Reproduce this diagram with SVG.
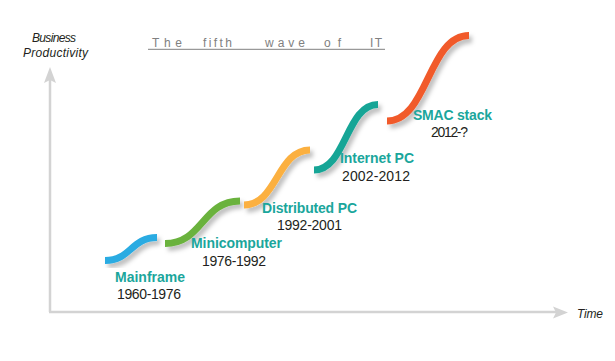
<svg xmlns="http://www.w3.org/2000/svg" width="615" height="361" viewBox="0 0 615 361">
<style>
.axis{stroke:#d3d3d3;stroke-width:2.5;fill:none}
.head{fill:#d3d3d3}
.wave{fill:none;stroke-width:7;stroke-linecap:butt;filter:url(#sh)}
.name{font-family:"Liberation Sans",Arial,sans-serif;font-size:14px;font-weight:bold;fill:#1ba69c}
.year{font-family:"Liberation Sans",Arial,sans-serif;font-size:14px;fill:#231f20}
.ax{font-family:"Liberation Sans",Arial,sans-serif;font-size:12px;font-style:italic;fill:#231f20}
.title{font-family:"Liberation Sans",Arial,sans-serif;font-size:12px;fill:#808080}
</style>
<defs>
<filter id="sh" x="-30%" y="-30%" width="160%" height="160%">
<feDropShadow dx="3" dy="4" stdDeviation="2" flood-color="#000" flood-opacity="0.25"/>
</filter>
</defs>
<rect width="615" height="361" fill="#fff"/>
<g id="axes">
<line class="axis" x1="50" y1="312" x2="50" y2="80"/>
<polygon class="head" points="50,67 56,83 50,80 44,83"/>
<line class="axis" x1="49" y1="312" x2="556" y2="312"/>
<polygon class="head" points="568,312.5 553,318.5 556,312.5 553,306.5"/>
<text class="ax" x="32" y="42" textLength="44">Business</text>
<text class="ax" x="23" y="57" textLength="65">Productivity</text>
<text class="ax" x="577" y="318" textLength="26">Time</text>
</g>
<g id="title">
<text class="title" x="152" y="47" textLength="30">The</text>
<text class="title" x="203" y="47" textLength="29">fifth</text>
<text class="title" x="265" y="47" textLength="40">wave</text>
<text class="title" x="324" y="47" textLength="17">of</text>
<text class="title" x="370" y="47" textLength="12">IT</text>
<line x1="148" y1="49.3" x2="385" y2="49.3" stroke="#808080" stroke-width="1"/>
</g>
<g id="connectors"></g>
<g id="mainframe">
<path class="wave" stroke="#29abe2" d="M105,260.5 C131,260.5 131,237.5 157,237.5"/>
<text class="name" x="115" y="282" textLength="70">Mainframe</text>
<text class="year" x="117" y="299" textLength="64">1960-1976</text>
</g>
<g id="minicomputer">
<path class="wave" stroke="#6ab23e" d="M165,243.5 C203,243.5 202,201 240,201"/>
<text class="name" x="191" y="248" textLength="91">Minicomputer</text>
<text class="year" x="202" y="266" textLength="64">1976-1992</text>
</g>
<g id="distributed-pc">
<path class="wave" stroke="#fbb040" d="M244,205 C277,205 277,150 310,150"/>
<text class="name" x="262" y="213" textLength="95">Distributed PC</text>
<text class="year" x="277" y="230" textLength="65">1992-2001</text>
</g>
<g id="internet-pc">
<path class="wave" stroke="#16a596" d="M314,170 C346,170 346,104.5 378,104.5"/>
<text class="name" x="340" y="163" textLength="74">Internet PC</text>
<text class="year" x="342" y="181" textLength="68">2002-2012</text>
</g>
<g id="smac-stack">
<path class="wave" stroke="#f15a2b" d="M387,121 C428,121 428,35.5 469,35.5"/>
<text class="name" x="413" y="120" textLength="79">SMAC stack</text>
<text class="year" x="431" y="137" textLength="37">2012-?</text>
</g>
</svg>
